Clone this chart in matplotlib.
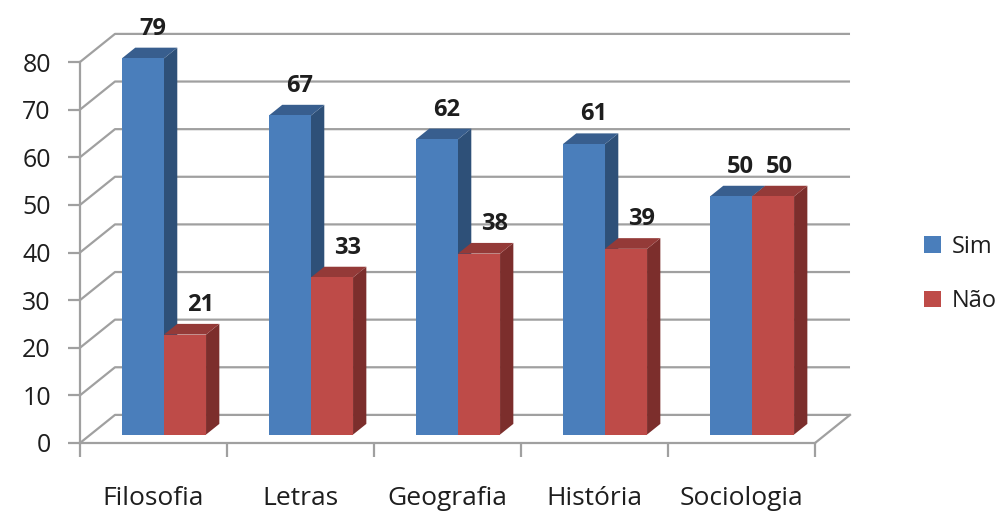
import numpy as np
import matplotlib.pyplot as plt
from matplotlib.patches import Polygon, Patch

categorias = ['Filosofia', 'Letras', 'Geografia', 'História', 'Sociologia']
sim = [79, 67, 62, 61, 50]
nao = [21, 33, 38, 39, 50]
yticks = [0, 10, 20, 30, 40, 50, 60, 70, 80]

plt.rcParams['font.family'] = ['Open Sans', 'DejaVu Sans']

# cores estilo Excel 2007 (frente, lado, topo)
azul = ('#4A7EBB', '#2E5078', '#385E8E')
vermelho = ('#BE4B48', '#7C2E2C', '#943A38')
cinza = '#A0A0A0'
texto = '#1E1E1E'

fig = plt.figure(figsize=(10.07, 5.11), dpi=100)
ax = fig.add_axes([60/1007, 61/511, 810/1007, 440/511])
ax.set_xlim(-0.136, 5.374)
ax.set_ylim(-1.47, 90.92)

n = len(categorias)
DX, DY = 0.238, 5.9      # profundidade da parede do fundo
d0, d1 = 0.30, 0.68      # frente e fundo das barras (fracao da profundidade)
w = 0.286                # largura de cada barra

# paredes / grade
for v in yticks:
    ax.plot([0, DX, n + DX], [v, v + DY, v + DY], color=cinza, lw=1.6, zorder=1,
            solid_capstyle='butt')
ax.plot([n, n + DX], [0, DY], color=cinza, lw=1.6, zorder=1)

def barra(x0, h, cores):
    ox, oy = d0 * DX, d0 * DY
    sx, sy = (d1 - d0) * DX, (d1 - d0) * DY
    xl, yb = x0 + ox, oy
    frente = Polygon([(xl, yb), (xl + w, yb), (xl + w, yb + h), (xl, yb + h)],
                     closed=True, fc=cores[0], ec='none', zorder=3)
    lado = Polygon([(xl + w, yb), (xl + w + sx, yb + sy), (xl + w + sx, yb + h + sy),
                    (xl + w, yb + h)], closed=True, fc=cores[1], ec='none', zorder=3)
    topo = Polygon([(xl, yb + h), (xl + w, yb + h), (xl + w + sx, yb + h + sy),
                    (xl + sx, yb + h + sy)], closed=True, fc=cores[2], ec='none', zorder=3)
    for p in (lado, topo, frente):
        ax.add_patch(p)
    return xl + w / 2 + sx / 2, yb + h + sy

for i in range(n):
    cx, cy = barra(i + 0.5 - w, sim[i], azul)
    ax.annotate(str(sim[i]), (cx, cy), xytext=(3, 13), textcoords='offset pixels',
                ha='center', va='baseline', fontsize=17, fontweight='bold',
                color=texto, zorder=5)
    cx, cy = barra(i + 0.5, nao[i], vermelho)
    dx = 9 if nao[i] < sim[i] else 0
    ax.annotate(str(nao[i]), (cx, cy), xytext=(dx, 13), textcoords='offset pixels',
                ha='center', va='baseline', fontsize=17, fontweight='bold',
                color=texto, zorder=5)

# eixos
for s in ('top', 'right'):
    ax.spines[s].set_visible(False)
ax.spines['left'].set_position(('data', 0))
ax.spines['bottom'].set_position(('data', 0))
ax.spines['left'].set_bounds(0, 80)
ax.spines['bottom'].set_bounds(0, n)
for s in ('left', 'bottom'):
    ax.spines[s].set_color(cinza)
    ax.spines[s].set_linewidth(1.6)
    ax.spines[s].set_zorder(2)

ax.set_yticks(yticks)
ax.set_yticklabels([str(v) for v in yticks], fontsize=18, color=texto)
ax.tick_params(axis='y', direction='out', length=9, width=1.6, color=cinza, pad=12)
ax.set_xticks(np.arange(n + 1))
ax.set_xticklabels([])
ax.tick_params(axis='x', which='major', direction='out', length=10, width=1.6, color=cinza)
ax.set_xticks(np.arange(n) + 0.5, minor=True)
ax.set_xticklabels(categorias, minor=True, fontsize=19, color=texto)
ax.tick_params(axis='x', which='minor', length=0, pad=31)

handles = [Patch(fc=azul[0], ec='none', label='Sim'),
           Patch(fc=vermelho[0], ec='none', label='Não')]
fig.legend(handles=handles, loc='center left', bbox_to_anchor=(903/1007, 1 - 274/511),
           frameon=False, fontsize=17, handlelength=0.7, handleheight=0.7,
           handletextpad=0.45, labelspacing=1.3, labelcolor=texto)

fig.savefig('out.png', dpi=100)
